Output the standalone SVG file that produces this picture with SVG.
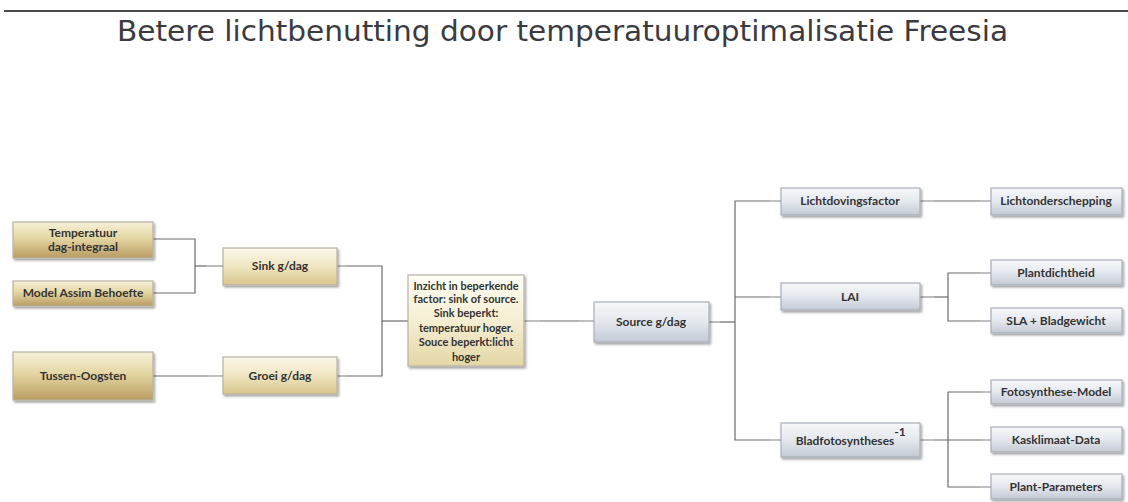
<svg xmlns="http://www.w3.org/2000/svg" width="1128" height="502" viewBox="0 0 1128 502">
<defs>
<linearGradient id="gold" x1="0" y1="0" x2="0" y2="1">
<stop offset="0" stop-color="#f6f1da"/>
<stop offset="0.45" stop-color="#e4d6a2"/>
<stop offset="1" stop-color="#b99c62"/>
</linearGradient>
<linearGradient id="goldL" x1="0" y1="0" x2="0" y2="1">
<stop offset="0" stop-color="#fbf8ea"/>
<stop offset="0.5" stop-color="#efe5c0"/>
<stop offset="1" stop-color="#d8c58c"/>
</linearGradient>
<linearGradient id="cream" x1="0" y1="0" x2="0" y2="1">
<stop offset="0" stop-color="#fffef6"/>
<stop offset="0.5" stop-color="#f5eed2"/>
<stop offset="1" stop-color="#e4d6a6"/>
</linearGradient>
<linearGradient id="blue" x1="0" y1="0" x2="0" y2="1">
<stop offset="0" stop-color="#f7f8fa"/>
<stop offset="0.5" stop-color="#e4e8ee"/>
<stop offset="1" stop-color="#c3cad5"/>
</linearGradient>
<filter id="sh" x="-10%" y="-20%" width="125%" height="150%">
<feDropShadow dx="1.5" dy="2" stdDeviation="1.2" flood-color="#000" flood-opacity="0.35"/>
</filter>
</defs>
<style>
.g{fill:url(#gold);stroke:#b7b2a4;stroke-width:1.2;filter:url(#sh)}
.gl{fill:url(#goldL);stroke:#b7b2a4;stroke-width:1.2;filter:url(#sh)}
.c{fill:url(#cream);stroke:#b7b2a4;stroke-width:1.2;filter:url(#sh)}
.b{fill:url(#blue);stroke:#a9afb8;stroke-width:1.2;filter:url(#sh)}
.t{font-family:Lato,"Open Sans","Liberation Sans",sans-serif;font-weight:bold;font-size:12px;fill:#333;text-anchor:middle}
.s{font-size:11px}
.ln{fill:none;stroke:#6a6a6a;stroke-width:1.2}
.st{fill:none;stroke:#c4c4c4;stroke-width:1.6}
</style>
<rect width="1128" height="502" fill="#fff"/>
<line x1="4" y1="11" x2="1128" y2="11" stroke="#111" stroke-width="1.6"/>
<text x="117" y="41" font-family="'DejaVu Sans',Verdana,sans-serif" font-size="29" fill="#3b3b3f" textLength="891" lengthAdjust="spacingAndGlyphs">Betere lichtbenutting door temperatuuroptimalisatie Freesia</text>

<g id="connectors">
<path class="ln" d="M153 239 H195 V293 H153"/>
<path class="ln" d="M195 266 H223"/>
<path class="ln" d="M337 266 H382 V376 H337"/>
<path class="ln" d="M153 376 H223"/>
<path class="ln" d="M382 321 H408"/>
<path class="ln" d="M524 321 H594"/>
<path class="ln" d="M709 322 H735"/>
<path class="ln" d="M781 201 H735 V440 H781"/>
<path class="ln" d="M735 297 H781"/>
<path class="ln" d="M920 201 H991"/>
<path class="ln" d="M920 297 H948"/>
<path class="ln" d="M991 273 H948 V321 H991"/>
<path class="ln" d="M920 440 H991"/>
<path class="ln" d="M991 392 H948 V487 H991"/>
<path class="st" d="M206 266 H222 M337 266 H346 M207 376 H222 M337 376 H346 M524 321 H540 M579 321 H593 M709 322 H720 M770 201 H780 M770 297 H780 M770 440 H780 M920 201 H934 M920 297 H934 M920 440 H934 M980 201 H990 M980 273 H990 M980 321 H990 M980 392 H990 M980 440 H990 M980 487 H990"/>
</g>

<g id="temperatuur"><rect class="g" x="13" y="222" width="140" height="36"/><text class="t" x="83" y="237">Temperatuur</text><text class="t" x="83" y="251">dag-integraal</text></g>
<g id="model-assim"><rect class="g" x="13" y="281" width="140" height="25"/><text class="t" x="83" y="297">Model Assim Behoefte</text></g>
<g id="tussen-oogsten"><rect class="g" x="13" y="352" width="140" height="48"/><text class="t" x="83" y="380">Tussen-Oogsten</text></g>
<g id="sink"><rect class="gl" x="223" y="248" width="114" height="37"/><text class="t" x="280" y="270">Sink g/dag</text></g>
<g id="groei"><rect class="gl" x="223" y="357" width="114" height="37"/><text class="t" x="280" y="380">Groei g/dag</text></g>
<g id="inzicht"><rect class="c" x="408" y="275" width="116" height="91"/>
<text class="t s" x="466" y="290">Inzicht in beperkende</text>
<text class="t s" x="466" y="303">factor: sink of source.</text>
<text class="t s" x="466" y="317">Sink beperkt:</text>
<text class="t s" x="466" y="332">temperatuur hoger.</text>
<text class="t s" x="466" y="346">Souce beperkt:licht</text>
<text class="t s" x="466" y="361">hoger</text></g>
<g id="source"><rect class="b" x="594" y="302" width="115" height="40"/><text class="t" x="651" y="326">Source g/dag</text></g>
<g id="lichtdovingsfactor"><rect class="b" x="781" y="188" width="139" height="27"/><text class="t" x="850" y="205">Lichtdovingsfactor</text></g>
<g id="lai"><rect class="b" x="781" y="283" width="139" height="27"/><text class="t" x="850" y="301">LAI</text></g>
<g id="bladfotosyntheses"><rect class="b" x="781" y="423" width="139" height="34"/><text class="t" x="845" y="445">Bladfotosyntheses</text><text class="t" x="900" y="436" font-size="8">-1</text></g>
<g id="lichtonderschepping"><rect class="b" x="991" y="188" width="131" height="27"/><text class="t" x="1056" y="205">Lichtonderschepping</text></g>
<g id="plantdichtheid"><rect class="b" x="991" y="260" width="131" height="25"/><text class="t" x="1056" y="277">Plantdichtheid</text></g>
<g id="sla"><rect class="b" x="991" y="308" width="131" height="25"/><text class="t" x="1056" y="325">SLA + Bladgewicht</text></g>
<g id="fotosynthese-model"><rect class="b" x="991" y="380" width="131" height="24"/><text class="t" x="1056" y="396">Fotosynthese-Model</text></g>
<g id="kasklimaat"><rect class="b" x="991" y="427" width="131" height="25"/><text class="t" x="1056" y="444">Kasklimaat-Data</text></g>
<g id="plant-parameters"><rect class="b" x="991" y="474" width="131" height="25"/><text class="t" x="1056" y="491">Plant-Parameters</text></g>
</svg>
